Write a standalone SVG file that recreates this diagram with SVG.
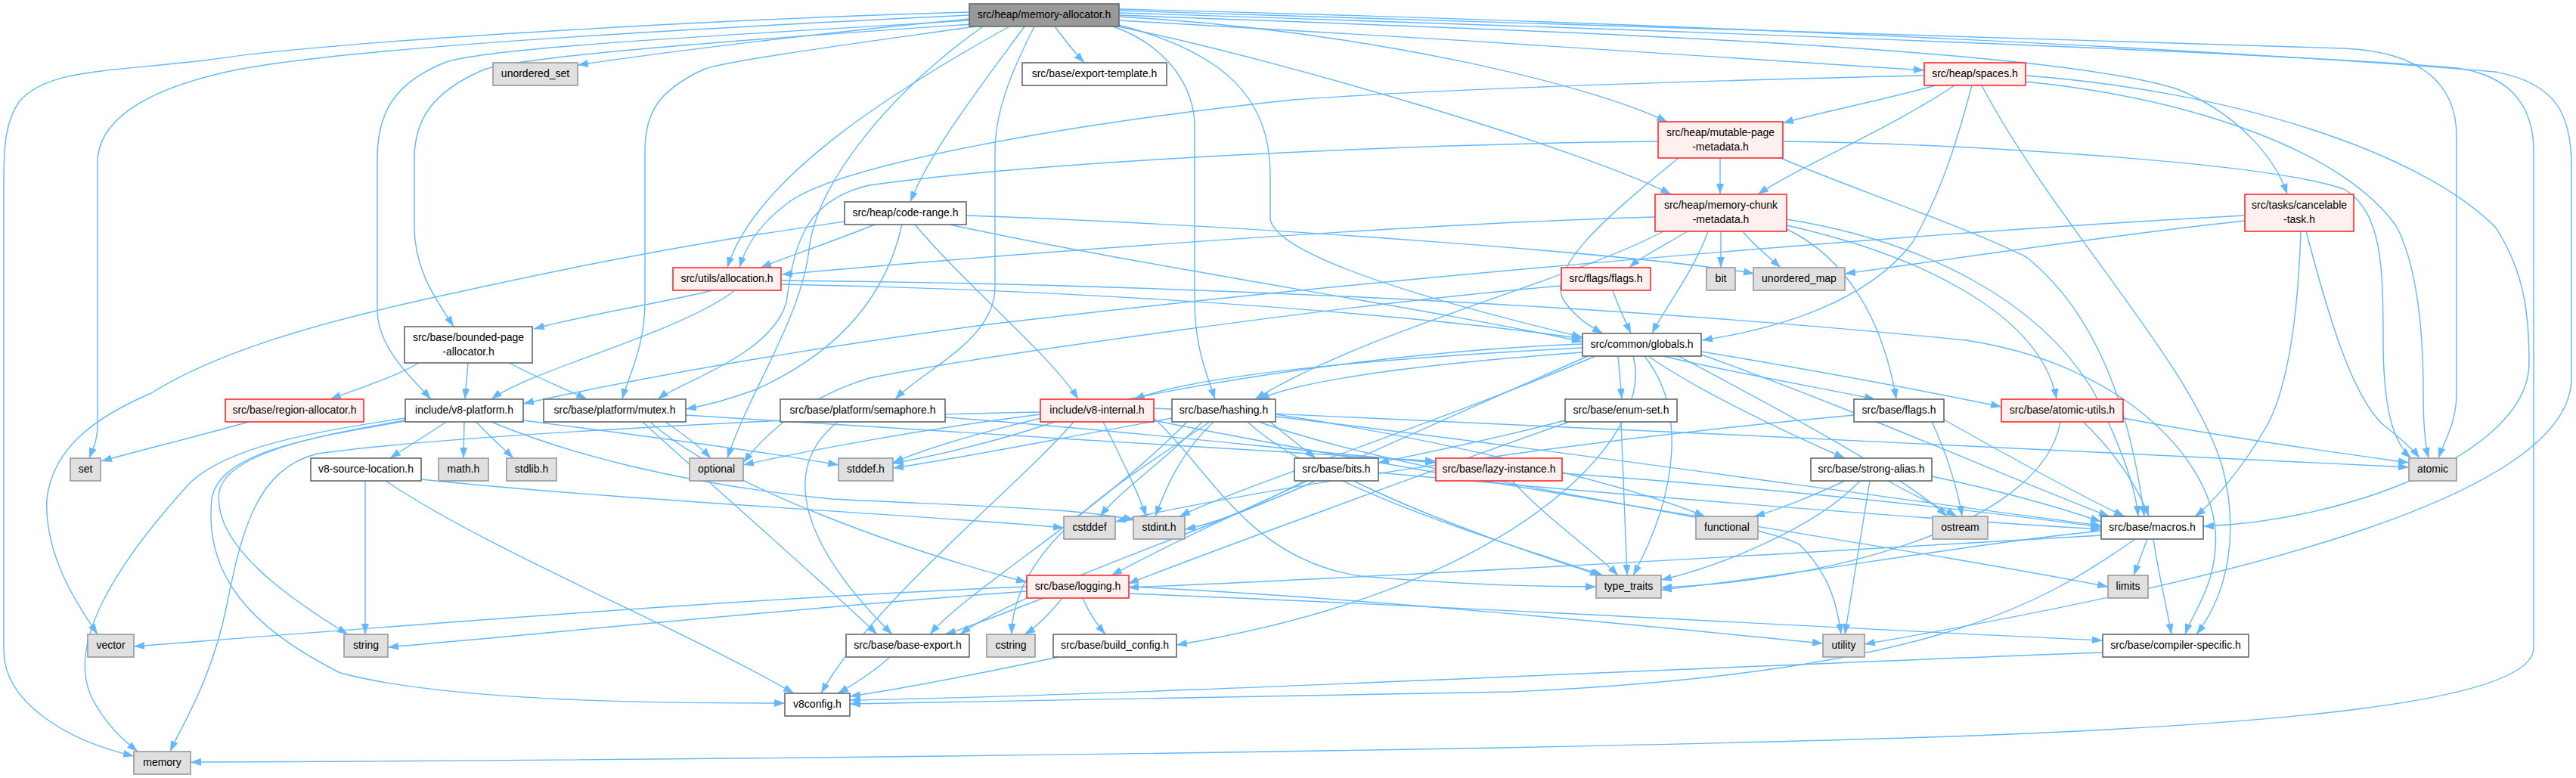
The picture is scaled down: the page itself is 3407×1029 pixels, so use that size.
<svg xmlns="http://www.w3.org/2000/svg" width="3407" height="1029" viewBox="0 0 3407 1029">
<style>
.e{fill:none;stroke:#63b8ff;stroke-width:1.4}
rect{stroke-width:1.6}
.n rect{fill:#ffffff;stroke:#666666}
.g rect{fill:#e0e0e0;stroke:#999999}
.r rect{fill:#fff0f0;stroke:#ff2a2a}
.rt rect{fill:#999999;stroke:#666666}
text{font-family:"Liberation Sans",Arial,sans-serif;font-size:14px;fill:#000;text-anchor:middle}
</style>
<defs>
<marker id="a" markerUnits="userSpaceOnUse" viewBox="0 0 14 10" markerWidth="14" markerHeight="10" refX="14" refY="5" orient="auto">
<path d="M0,0 L14,5 L0,10 z" fill="#63b8ff"/>
</marker>
</defs>
<g id="edges" marker-end="url(#a)">
<path class="e" d="M1282,16 C1000,24 450,52 270,80 C140,95 60,92 25,135 C8,160 5,190 5,240 L5,860 C5,930 90,980 177,1000"/>
<path class="e" d="M1282,20 C950,36 450,62 300,95 C180,122 129,165 129,215 L129,560 C129,585 122,595 118,606"/>
<path class="e" d="M1282,25 C1100,42 900,66 764,86"/>
<path class="e" d="M1282,27 C1050,42 660,60 590,82 C520,110 499,150 499,210 L499,410 C499,460 545,500 570,528"/>
<path class="e" d="M1285,32 C1050,48 700,72 640,92 C570,122 548,160 548,210 L548,300 C548,360 580,400 600,432"/>
<path class="e" d="M1290,35 C1150,55 960,80 930,92 C870,120 853,150 853,200 L853,400 C853,460 830,500 823,528"/>
<path class="e" d="M1300,35 C1180,120 1080,240 1070,330 C1060,420 990,520 962,606"/>
<path class="e" d="M1395,35 C1410,55 1422,70 1434,83"/>
<path class="e" d="M1355,35 C1300,110 1230,200 1204,267"/>
<path class="e" d="M1335,35 C1200,110 1000,230 962,354"/>
<path class="e" d="M1368,35 C1335,100 1316,150 1316,200 L1316,380 C1316,450 1220,490 1184,528"/>
<path class="e" d="M1472,35 C1530,55 1575,100 1580,160 L1580,400 C1580,460 1598,500 1607,528"/>
<path class="e" d="M1480,33 C1620,70 1680,130 1680,230 L1680,290 C1690,340 1900,400 2093,446"/>
<path class="e" d="M1480,22 C1800,40 2100,110 2205,161"/>
<path class="e" d="M1478,35 C1700,80 2100,200 2210,257"/>
<path class="e" d="M1480,27 C1800,45 2300,75 2545,93"/>
<path class="e" d="M1480,20 C2000,40 2700,60 2880,118 C2960,150 3010,210 3025,257"/>
<path class="e" d="M1480,14 C2200,34 2900,58 3100,64 C3200,68 3249,110 3249,180 L3249,520 C3249,560 3232,585 3225,606"/>
<path class="e" d="M1480,17 C2200,40 3000,68 3250,90 C3320,100 3351,140 3351,200 L3351,857 C3351,930 3000,960 2550,975 C2000,993 1000,1005 252,1008"/>
<path class="e" d="M1480,12 C2300,32 3000,70 3300,95 C3380,110 3401,150 3401,220 L3401,500 C3401,650 3000,760 2466,852"/>
<path class="e" d="M2679,100 C2950,120 3200,200 3300,300 C3340,360 3345,420 3345,480 C3345,600 3100,690 2914,696"/>
<path class="e" d="M2545,100 C2200,108 1900,118 1710,132 C1400,165 1100,220 1040,270 C1000,300 985,330 978,354"/>
<path class="e" d="M2560,113 C2480,135 2400,150 2358,163"/>
<path class="e" d="M2585,113 C2500,170 2380,220 2325,257"/>
<path class="e" d="M2608,113 C2590,180 2570,250 2530,320 C2470,400 2350,435 2251,450"/>
<path class="e" d="M2621,113 C2720,300 2900,480 2940,620 C2960,700 2950,780 2905,839"/>
<path class="e" d="M2679,108 C2900,130 3100,200 3170,300 C3200,360 3205,450 3205,520 C3205,560 3208,590 3212,606"/>
<path class="e" d="M2275,209 L2275,257"/>
<path class="e" d="M2220,209 C2120,290 2040,360 2070,400 C2085,420 2100,430 2120,441"/>
<path class="e" d="M2193,187 C1900,190 1400,210 1150,245 C1060,265 1050,330 1040,400 C1020,470 900,505 870,528"/>
<path class="e" d="M2358,187 C2600,190 3000,215 3100,250 C3150,280 3152,350 3152,450 C3152,540 3165,585 3189,606"/>
<path class="e" d="M2355,209 C2450,250 2600,300 2680,340 C2780,420 2820,560 2836,683"/>
<path class="e" d="M1157,297 C1100,320 1040,340 1006,354"/>
<path class="e" d="M1117,293 C1000,310 860,330 603,387 C400,430 280,470 200,520 C130,550 70,590 62,660 C58,740 110,810 129,839"/>
<path class="e" d="M1193,297 C1170,400 1100,470 1000,515 C960,530 930,537 907,541"/>
<path class="e" d="M1210,297 C1280,380 1390,470 1426,528"/>
<path class="e" d="M1278,285 C1700,300 2200,340 2320,362"/>
<path class="e" d="M1256,297 C1500,350 1900,410 2093,452"/>
<path class="e" d="M942,384 C880,400 780,415 706,435"/>
<path class="e" d="M972,384 C900,440 700,490 650,528"/>
<path class="e" d="M1033,371 C1500,375 2100,400 2600,450 C2800,480 2920,600 2930,700 C2935,770 2900,810 2890,839"/>
<path class="e" d="M1033,376 C1500,385 1900,420 2093,448"/>
<path class="e" d="M2133,384 C2140,405 2150,425 2157,441"/>
<path class="e" d="M2065,378 C1800,400 1300,470 1150,500 C1050,530 1000,590 983,612"/>
<path class="e" d="M2232,306 C2200,325 2170,340 2155,354"/>
<path class="e" d="M2276,306 L2276,354"/>
<path class="e" d="M2305,306 C2320,325 2340,340 2355,354"/>
<path class="e" d="M2259,306 C2240,360 2200,410 2185,441"/>
<path class="e" d="M2189,287 C1900,295 1400,330 1034,363"/>
<path class="e" d="M2200,306 C2080,370 1800,440 1660,528"/>
<path class="e" d="M2363,303 C2440,340 2490,420 2508,528"/>
<path class="e" d="M2363,298 C2550,340 2700,420 2720,528"/>
<path class="e" d="M2363,290 C2550,320 2700,400 2770,520 C2810,600 2825,650 2828,683"/>
<path class="e" d="M2969,292 C2800,310 2600,340 2440,362"/>
<path class="e" d="M2969,285 C2500,310 1800,370 1300,430 C1000,470 800,510 692,534"/>
<path class="e" d="M3043,306 C3040,400 3030,500 3000,560 C2960,630 2920,670 2903,683"/>
<path class="e" d="M3050,306 C3080,420 3110,520 3150,560 C3175,580 3192,595 3200,606"/>
<path class="e" d="M554,480 C520,500 470,515 437,528"/>
<path class="e" d="M619,480 L615,528"/>
<path class="e" d="M674,480 C710,500 750,515 776,528"/>
<path class="e" d="M329,558 C250,580 180,597 134,610"/>
<path class="e" d="M590,558 C565,575 540,590 516,606"/>
<path class="e" d="M614,558 L613,606"/>
<path class="e" d="M630,558 C645,575 665,592 679,606"/>
<path class="e" d="M650,558 C750,600 900,640 1100,660 C1300,670 1430,672 1500,688"/>
<path class="e" d="M692,556 C800,570 1000,595 1109,615"/>
<path class="e" d="M536,553 C420,570 300,590 250,640 C150,750 90,850 120,920 C140,960 165,980 182,994"/>
<path class="e" d="M536,556 C420,575 300,600 290,650 C280,720 380,790 460,839"/>
<path class="e" d="M536,557 C400,580 290,600 280,660 C270,760 330,830 450,890 C600,930 900,930 1038,930"/>
<path class="e" d="M557,634 C800,660 1200,680 1407,698"/>
<path class="e" d="M483,636 L483,839"/>
<path class="e" d="M510,636 C650,730 900,830 1050,917"/>
<path class="e" d="M880,558 C905,575 925,590 940,606"/>
<path class="e" d="M850,558 C950,650 1100,780 1160,839"/>
<path class="e" d="M860,558 C950,640 1200,730 1358,770"/>
<path class="e" d="M907,549 C1200,570 1600,590 1899,610"/>
<path class="e" d="M1108,558 C1030,620 1060,720 1180,839"/>
<path class="e" d="M1250,552 C1500,570 1700,595 1899,612"/>
<path class="e" d="M1395,558 C1330,580 1250,600 1181,613"/>
<path class="e" d="M1459,558 C1480,600 1505,650 1516,683"/>
<path class="e" d="M1526,553 C1600,620 1650,740 1800,762 C1950,775 2050,776 2111,776"/>
<path class="e" d="M1420,558 C1350,640 1150,800 1086,917"/>
<path class="e" d="M1376,545 C1100,550 600,575 420,600 C340,620 320,700 300,800 C280,900 240,960 225,994"/>
<path class="e" d="M1376,548 C1200,570 1050,600 983,615"/>
<path class="e" d="M1526,540 C2000,560 2800,600 3186,618"/>
<path class="e" d="M1526,556 C2000,650 2500,720 2788,776"/>
<path class="e" d="M1550,553 C1400,580 1250,610 1181,619"/>
<path class="e" d="M1590,558 C1540,610 1480,650 1455,683"/>
<path class="e" d="M1605,558 C1560,600 1540,650 1528,683"/>
<path class="e" d="M1600,558 C1480,640 1340,720 1338,839"/>
<path class="e" d="M1570,558 C1450,680 1280,780 1230,839"/>
<path class="e" d="M1687,548 C1900,580 2150,640 2255,683"/>
<path class="e" d="M1650,558 C1750,650 2000,720 2120,761"/>
<path class="e" d="M1665,558 C1900,640 2300,680 2380,720 C2420,760 2430,800 2435,839"/>
<path class="e" d="M1680,558 C1700,575 1720,590 1740,606"/>
<path class="e" d="M1687,551 C2100,600 2500,660 2779,695"/>
<path class="e" d="M2093,460 C1900,470 1600,490 1500,528"/>
<path class="e" d="M2093,466 C1900,480 1730,500 1665,528"/>
<path class="e" d="M2140,471 L2145,528"/>
<path class="e" d="M2200,471 C2300,495 2420,515 2480,528"/>
<path class="e" d="M2250,465 C2400,490 2560,520 2647,538"/>
<path class="e" d="M2180,471 C2250,520 2380,580 2440,606"/>
<path class="e" d="M2250,469 C2450,540 2700,650 2790,683"/>
<path class="e" d="M2100,471 C1900,560 1600,690 1470,761"/>
<path class="e" d="M2160,471 C2190,580 2000,780 1556,853"/>
<path class="e" d="M2220,471 C2350,540 2520,630 2575,683"/>
<path class="e" d="M2110,471 C1900,560 1650,640 1560,683"/>
<path class="e" d="M2175,471 C2230,540 2220,650 2160,761"/>
<path class="e" d="M2093,455 C1700,470 1300,560 1181,612"/>
<path class="e" d="M2070,556 C1980,580 1880,600 1823,612"/>
<path class="e" d="M2144,558 L2152,761"/>
<path class="e" d="M2075,558 C1900,620 1600,730 1492,772"/>
<path class="e" d="M2555,558 C2575,600 2590,650 2595,683"/>
<path class="e" d="M2571,555 C2650,600 2760,660 2810,683"/>
<path class="e" d="M2452,549 C2000,590 1600,660 1475,690"/>
<path class="e" d="M2808,553 C2950,580 3100,600 3186,612"/>
<path class="e" d="M2755,558 C2800,600 2830,650 2842,683"/>
<path class="e" d="M2725,558 C2700,700 2400,770 2197,777"/>
<path class="e" d="M1725,636 C1680,660 1620,690 1567,700"/>
<path class="e" d="M1790,636 C1900,690 2050,740 2117,761"/>
<path class="e" d="M1823,625 C2200,660 2600,690 2779,700"/>
<path class="e" d="M1740,636 C1600,700 1350,780 1270,839"/>
<path class="e" d="M2000,636 C2050,690 2110,730 2140,761"/>
<path class="e" d="M2066,626 C2400,650 2650,680 2779,697"/>
<path class="e" d="M2440,636 C2400,655 2350,675 2320,683"/>
<path class="e" d="M2460,636 C2400,700 2270,750 2197,767"/>
<path class="e" d="M2473,636 L2440,839"/>
<path class="e" d="M2497,636 C2530,655 2565,670 2588,683"/>
<path class="e" d="M2555,630 C2650,650 2720,670 2779,690"/>
<path class="e" d="M2840,713 L2822,761"/>
<path class="e" d="M2848,713 C2855,760 2865,800 2872,839"/>
<path class="e" d="M2779,702 C2600,720 2350,765 2197,780"/>
<path class="e" d="M2824,713 C2700,800 2550,890 2000,915 C1600,925 1300,928 1124,931"/>
<path class="e" d="M2779,708 C2400,730 1900,760 1492,777"/>
<path class="e" d="M1358,776 C1000,790 500,830 177,855"/>
<path class="e" d="M1358,782 C1100,800 700,840 513,856"/>
<path class="e" d="M1380,791 C1330,810 1280,830 1250,839"/>
<path class="e" d="M1405,791 C1390,810 1370,830 1355,839"/>
<path class="e" d="M1432,791 C1440,810 1450,825 1462,839"/>
<path class="e" d="M1493,776 C1800,790 2200,830 2411,851"/>
<path class="e" d="M1493,785 C2000,805 2500,835 2781,847"/>
<path class="e" d="M1177,869 C1160,885 1130,905 1108,917"/>
<path class="e" d="M1400,869 C1300,890 1200,910 1124,921"/>
<path class="e" d="M2781,863 C2300,880 1500,920 1124,926"/>
</g>
<g id="root" class="rt"><rect x="1282" y="5" width="198" height="30"/><text x="1381" y="24">src/heap/memory-allocator.h</text></g>
<g id="unordered_set" class="g"><rect x="652" y="83" width="112" height="30"/><text x="708" y="102">unordered_set</text></g>
<g id="export_template" class="n"><rect x="1352" y="83" width="191" height="30"/><text x="1447.5" y="102">src/base/export-template.h</text></g>
<g id="spaces" class="r"><rect x="2545" y="83" width="134" height="30"/><text x="2612" y="102">src/heap/spaces.h</text></g>
<g id="mutable_page" class="r"><rect x="2193" y="161" width="165" height="48"/><text x="2275.5" y="180">src/heap/mutable-page</text><text x="2275.5" y="199">-metadata.h</text></g>
<g id="code_range" class="n"><rect x="1117" y="267" width="161" height="30"/><text x="1197.5" y="286">src/heap/code-range.h</text></g>
<g id="memory_chunk" class="r"><rect x="2189" y="257" width="174" height="49"/><text x="2276" y="276">src/heap/memory-chunk</text><text x="2276" y="295">-metadata.h</text></g>
<g id="cancelable" class="r"><rect x="2969" y="257" width="144" height="49"/><text x="3041" y="276">src/tasks/cancelable</text><text x="3041" y="295">-task.h</text></g>
<g id="allocation" class="r"><rect x="890" y="354" width="143" height="30"/><text x="961.5" y="373">src/utils/allocation.h</text></g>
<g id="flags_flags" class="r"><rect x="2065" y="354" width="118" height="30"/><text x="2124" y="373">src/flags/flags.h</text></g>
<g id="bit" class="g"><rect x="2257" y="354" width="38" height="30"/><text x="2276" y="373">bit</text></g>
<g id="unordered_map" class="g"><rect x="2319" y="354" width="121" height="30"/><text x="2379.5" y="373">unordered_map</text></g>
<g id="bounded_page" class="n"><rect x="535" y="432" width="169" height="48"/><text x="619.5" y="451">src/base/bounded-page</text><text x="619.5" y="470">-allocator.h</text></g>
<g id="globals" class="n"><rect x="2093" y="441" width="157" height="30"/><text x="2171.5" y="460">src/common/globals.h</text></g>
<g id="region_allocator" class="r"><rect x="298" y="528" width="183" height="30"/><text x="389.5" y="547">src/base/region-allocator.h</text></g>
<g id="v8_platform" class="n"><rect x="536" y="528" width="156" height="30"/><text x="614" y="547">include/v8-platform.h</text></g>
<g id="mutex" class="n"><rect x="719" y="528" width="188" height="30"/><text x="813" y="547">src/base/platform/mutex.h</text></g>
<g id="semaphore" class="n"><rect x="1032" y="528" width="218" height="30"/><text x="1141" y="547">src/base/platform/semaphore.h</text></g>
<g id="v8_internal" class="r"><rect x="1376" y="528" width="150" height="30"/><text x="1451" y="547">include/v8-internal.h</text></g>
<g id="hashing" class="n"><rect x="1550" y="528" width="137" height="30"/><text x="1618.5" y="547">src/base/hashing.h</text></g>
<g id="enum_set" class="n"><rect x="2070" y="528" width="148" height="30"/><text x="2144" y="547">src/base/enum-set.h</text></g>
<g id="base_flags" class="n"><rect x="2452" y="528" width="119" height="30"/><text x="2511.5" y="547">src/base/flags.h</text></g>
<g id="atomic_utils" class="r"><rect x="2647" y="528" width="161" height="30"/><text x="2727.5" y="547">src/base/atomic-utils.h</text></g>
<g id="set" class="g"><rect x="93" y="606" width="40" height="30"/><text x="113" y="625">set</text></g>
<g id="source_location" class="n"><rect x="411" y="606" width="146" height="30"/><text x="484" y="625">v8-source-location.h</text></g>
<g id="math_h" class="g"><rect x="580" y="606" width="66" height="30"/><text x="613" y="625">math.h</text></g>
<g id="stdlib_h" class="g"><rect x="670" y="606" width="66" height="30"/><text x="703" y="625">stdlib.h</text></g>
<g id="optional" class="g"><rect x="912" y="606" width="71" height="30"/><text x="947.5" y="625">optional</text></g>
<g id="stddef_h" class="g"><rect x="1109" y="606" width="72" height="30"/><text x="1145" y="625">stddef.h</text></g>
<g id="bits" class="n"><rect x="1712" y="606" width="111" height="30"/><text x="1767.5" y="625">src/base/bits.h</text></g>
<g id="lazy_instance" class="r"><rect x="1899" y="606" width="167" height="30"/><text x="1982.5" y="625">src/base/lazy-instance.h</text></g>
<g id="strong_alias" class="n"><rect x="2395" y="606" width="160" height="30"/><text x="2475" y="625">src/base/strong-alias.h</text></g>
<g id="atomic" class="g"><rect x="3186" y="606" width="63" height="30"/><text x="3217.5" y="625">atomic</text></g>
<g id="cstddef" class="g"><rect x="1407" y="683" width="68" height="30"/><text x="1441" y="702">cstddef</text></g>
<g id="stdint_h" class="g"><rect x="1499" y="683" width="68" height="30"/><text x="1533" y="702">stdint.h</text></g>
<g id="functional" class="g"><rect x="2243" y="683" width="82" height="30"/><text x="2284" y="702">functional</text></g>
<g id="ostream" class="g"><rect x="2556" y="683" width="73" height="30"/><text x="2592.5" y="702">ostream</text></g>
<g id="macros" class="n"><rect x="2779" y="683" width="135" height="30"/><text x="2846.5" y="702">src/base/macros.h</text></g>
<g id="logging" class="r"><rect x="1358" y="761" width="135" height="30"/><text x="1425.5" y="780">src/base/logging.h</text></g>
<g id="type_traits" class="g"><rect x="2111" y="761" width="86" height="30"/><text x="2154" y="780">type_traits</text></g>
<g id="limits" class="g"><rect x="2788" y="761" width="53" height="30"/><text x="2814.5" y="780">limits</text></g>
<g id="vector" class="g"><rect x="116" y="839" width="61" height="30"/><text x="146.5" y="858">vector</text></g>
<g id="string" class="g"><rect x="455" y="839" width="58" height="30"/><text x="484" y="858">string</text></g>
<g id="base_export" class="n"><rect x="1119" y="839" width="163" height="30"/><text x="1200.5" y="858">src/base/base-export.h</text></g>
<g id="cstring" class="g"><rect x="1305" y="839" width="64" height="30"/><text x="1337" y="858">cstring</text></g>
<g id="build_config" class="n"><rect x="1393" y="839" width="163" height="30"/><text x="1474.5" y="858">src/base/build_config.h</text></g>
<g id="utility" class="g"><rect x="2411" y="839" width="55" height="30"/><text x="2438.5" y="858">utility</text></g>
<g id="compiler_specific" class="n"><rect x="2781" y="839" width="193" height="30"/><text x="2877.5" y="858">src/base/compiler-specific.h</text></g>
<g id="v8config" class="n"><rect x="1038" y="917" width="86" height="30"/><text x="1081" y="936">v8config.h</text></g>
<g id="memory" class="g"><rect x="177" y="994" width="75" height="30"/><text x="214.5" y="1013">memory</text></g>
</svg>
